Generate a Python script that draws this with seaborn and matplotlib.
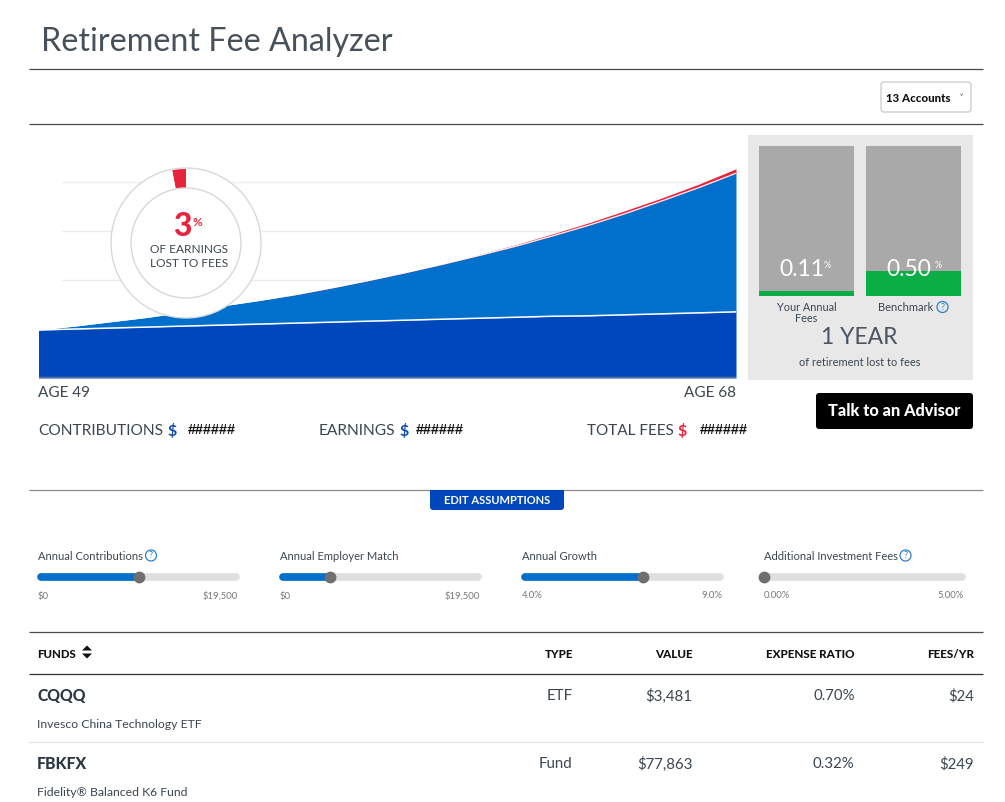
import matplotlib
matplotlib.use("Agg")
import matplotlib.pyplot as plt
from matplotlib.patches import FancyBboxPatch, Rectangle, Circle
import seaborn as sns
import pandas as pd

ages = list(range(49, 69))
contributions = [98, 100, 102, 104, 106, 108, 110, 112, 114, 116, 118, 120, 122, 124, 126, 127, 129, 131, 133, 135]
total_value = [98, 106, 115, 124, 135, 147, 158, 170, 184, 199, 215, 232, 250, 269, 290, 312, 336, 362, 389, 418]
before_fees = [98, 106, 115, 124, 135, 147, 158, 171, 185, 200, 216, 233, 252, 272, 294, 317, 342, 368, 396, 427]
grid_levels = [200, 300, 400]

lost_share = [3, 97]
fee_labels = ["Your Annual\nFees", "Benchmark"]
fee_rates = [0.11, 0.50]
fee_scale_top = 3

slider_names = ["Annual Contributions", "Annual Employer Match", "Annual Growth", "Additional Investment Fees"]
slider_low = ["$0", "$0", "4.0%", "0.00%"]
slider_high = ["$19,500", "$19,500", "9.0%", "5.00%"]
slider_pos = [0.50, 0.25, 0.60, 0.0]

fund_tickers = ["CQQQ", "FBKFX"]
fund_names = ["Invesco China Technology ETF", "Fidelity® Balanced K6 Fund"]
fund_types = ["ETF", "Fund"]
fund_values = ["$3,481", "$77,863"]
fund_ratios = ["0.70%", "0.32%"]
fund_fees = ["$24", "$249"]

DARK = "#0047BB"
MID = "#0070CC"
RED = "#E8243C"
GREEN = "#0BAE45"
INK = "#3A4652"
W, H = 1005, 802

sns.set_theme(style="white")
plt.rcParams["font.family"] = ["Lato", "DejaVu Sans"]

fig = plt.figure(figsize=(W / 100, H / 100), dpi=100, facecolor="white")


def px_axes(x0, y0, x1, y1, z):
    # pixel box, y counted from the top of the image
    ax = fig.add_axes([x0 / W, 1 - y1 / H, (x1 - x0) / W, (y1 - y0) / H], zorder=z)
    ax.patch.set_alpha(0)
    return ax


page = px_axes(0, 0, W, H, 0)
page.set_xlim(0, W)
page.set_ylim(H, 0)
page.axis("off")

top = px_axes(0, 0, W, H, 10)
top.set_xlim(0, W)
top.set_ylim(H, 0)
top.axis("off")


def rule(y, color="#4A4A4A", lw=0.9):
    page.plot([29, 983], [y, y], color=color, lw=lw, solid_capstyle="butt")


def label(x, y, s, size, color=INK, ha="left", weight="normal", **kw):
    top.text(x, y + 1, s, fontsize=size, color=color, ha=ha, va="center", fontweight=weight, **kw)


def help_icon(x, y, r=5.5):
    top.add_patch(Circle((x, y), r, fc="none", ec="#2F7FC8", lw=0.9))
    top.text(x, y, "?", fontsize=6.5, color="#2F7FC8", ha="center", va="center")


# header
label(41, 41, "Retirement Fee Analyzer", 23.2, color="#47515B")
rule(69)
rule(124)
page.add_patch(FancyBboxPatch((884, 85), 84, 24, boxstyle="round,pad=3", fc="white", ec="#CFCFCF", lw=1))
label(886, 97, "13 Accounts", 8.3, color="#111111", weight="black")
label(961, 96, "˅", 5, color="#333333", ha="center")

# growth chart
df = pd.DataFrame({"age": ages, "contributions": contributions, "total": total_value, "gross": before_fees})
chart = px_axes(38.5, 160, 736, 378, 2)
chart.set_xlim(49, 68)
chart.set_ylim(0, 218 / 0.49)
chart.axis("off")
chart.hlines(grid_levels, 49.6, 68, color="#EDEDED", lw=1, zorder=1)
chart.fill_between(df["age"], df["contributions"], df["total"], color=MID, lw=0, zorder=2)
chart.fill_between(df["age"], 0, df["contributions"], color=DARK, lw=0, zorder=2)
chart.fill_between(df["age"], df["total"], df["gross"], color=RED, lw=0, zorder=2)
sns.lineplot(data=df, x="age", y="total", color="white", lw=0.8, ax=chart, zorder=3, errorbar=None)
sns.lineplot(data=df, x="age", y="contributions", color="white", lw=1.1, ax=chart, zorder=3, errorbar=None)
chart.axhline(0, color="#5A6E9E", lw=2.5, zorder=4)
chart.set_xlabel("")
chart.set_ylabel("")

# donut
cx, cy, r_out, r_in = 186, 243, 75, 55
donut = px_axes(cx - 80, cy - 80, cx + 80, cy + 80, 5)
donut.add_patch(Circle((0, 0), r_out, fc="white", ec="#D8D8D8", lw=1))
donut.pie(lost_share, radius=r_out - 1, startangle=90, counterclock=True, colors=[RED, "white"],
          wedgeprops=dict(width=r_out - r_in - 1, lw=0), center=(0, 0), frame=False)
donut.add_patch(Circle((0, 0), r_in, fc="white", ec="#D8D8D8", lw=1))
donut.set_aspect("equal")
donut.axis("off")
donut.set_xlim(-80, 80)
donut.set_ylim(-80, 80)
label(182.5, 226, "3", 23, color=RED, ha="center", weight="black")
label(197, 221, "%", 8.5, color=RED, ha="center", weight="bold")
label(189, 248.5, "OF EARNINGS", 8.6, ha="center")
label(189, 262.5, "LOST TO FEES", 8.6, ha="center")

# captions under chart
label(38.5, 392, "AGE 49", 11)
label(736, 392, "AGE 68", 11, ha="right")
label(38.5, 430, "CONTRIBUTIONS", 11.2)
label(167.5, 430, "$", 11.5, color="#0F4FA8", weight="bold")
label(319, 430, "EARNINGS", 11.2)
label(399, 430, "$", 11.5, color="#0F4FA8", weight="bold")
label(587, 430, "TOTAL FEES", 11)
label(677, 430, "$", 11.5, color=RED, weight="bold")
for hx in [188, 416, 700]:
    top.text(hx, 430, "######", fontsize=10.3, color="#111111", va="center", family="Liberation Sans", fontweight="bold")

# fee panel
page.add_patch(Rectangle((748, 135), 225, 245, fc="#E8E8E8", ec="none"))
bars = px_axes(753, 146, 967, 296, 2)
sns.barplot(x=fee_labels, y=[fee_scale_top] * 2, color="#A9A9A9", saturation=1, width=0.888, linewidth=0, ax=bars)
sns.barplot(x=fee_labels, y=fee_rates, color=GREEN, saturation=1, width=0.888, linewidth=0, ax=bars)
bars.set_ylim(0, fee_scale_top)
bars.set_xlim(-0.5, 1.5)
bars.axis("off")
for xc, pc, rate in zip([802, 908.5], [827, 938], fee_rates):
    label(xc, 268.5, f"{rate:.2f}", 16.5, color="white", ha="center")
    label(pc, 264, "%", 6.5, color="white", ha="center")
label(806.5, 306.5, "Your Annual", 7.8, ha="center")
label(806.5, 317.5, "Fees", 7.8, ha="center")
label(906, 306.5, "Benchmark", 8, ha="center")
help_icon(942.5, 307)
label(859, 337, "1 YEAR", 16.5, color="#4A555F", ha="center")
label(860, 361.5, "of retirement lost to fees", 7.9, ha="center")
page.add_patch(FancyBboxPatch((819, 396), 151, 30, boxstyle="round,pad=3", fc="black", ec="none"))
label(894, 410, "Talk to an Advisor", 11.7, color="white", ha="center", weight="black")

# assumptions
rule(490, color="#8A8A8A")
page.add_patch(FancyBboxPatch((433, 493), 128, 14, boxstyle="round,pad=3", fc=DARK, ec="none", zorder=3))
page.add_patch(Rectangle((430, 490), 134, 5, fc=DARK, ec="none", zorder=3))
label(497, 499.5, "EDIT ASSUMPTIONS", 8, color="white", ha="center", weight="bold")

for i, x0 in enumerate([38, 280, 522, 764]):
    x1 = x0 + 201
    label(x0, 555, slider_names[i], 8)
    page.plot([x0 + 3, x1 - 3], [577, 577], color="#DFDFDF", lw=5.5, solid_capstyle="round")
    xh = x0 + slider_pos[i] * 201
    if slider_pos[i] > 0:
        page.plot([x0 + 3, xh], [576.5, 576.5], color=MID, lw=5.5, solid_capstyle="round")
    page.plot([xh], [576.5], "o", ms=8.5, color="#6F6F6F", mew=0)
    label(x0, 595, slider_low[i], 6.8, color="#777777")
    label(x1 - 1, 595, slider_high[i], 6.8, color="#777777", ha="right")
help_icon(151, 555.5)
help_icon(905.5, 555.5)

# funds table
rule(632)
rule(674, color="#333333")
rule(742, color="#E4E4E4")
label(37, 653, "FUNDS", 8.2, color="#111111", weight="black")
page.fill([82, 92, 87], [650.5, 650.5, 645.5], color="#111111", lw=0)
page.fill([82, 92, 87], [653.5, 653.5, 658.5], color="#111111", lw=0)
label(573, 653, "TYPE", 8.4, color="#111111", ha="right", weight="black")
label(692.5, 653, "VALUE", 8.4, color="#111111", ha="right", weight="black")
label(854.5, 653, "EXPENSE RATIO", 8.4, color="#111111", ha="right", weight="black")
label(974, 653, "FEES/YR", 8.4, color="#111111", ha="right", weight="black")
for i, y in enumerate([695, 763]):
    label(37, y, fund_tickers[i], 11.3, color="#2B3742", weight="black")
    label(37, y + 28, fund_names[i], 8.8)
    label(572.5, y, fund_types[i], 10.8, ha="right")
    label(692.5, y, fund_values[i], 10.8, ha="right")
    label(854.5, y, fund_ratios[i], 10.8, ha="right")
    label(974, y, fund_fees[i], 10.8, ha="right")

fig.savefig("out.png", dpi=100)
